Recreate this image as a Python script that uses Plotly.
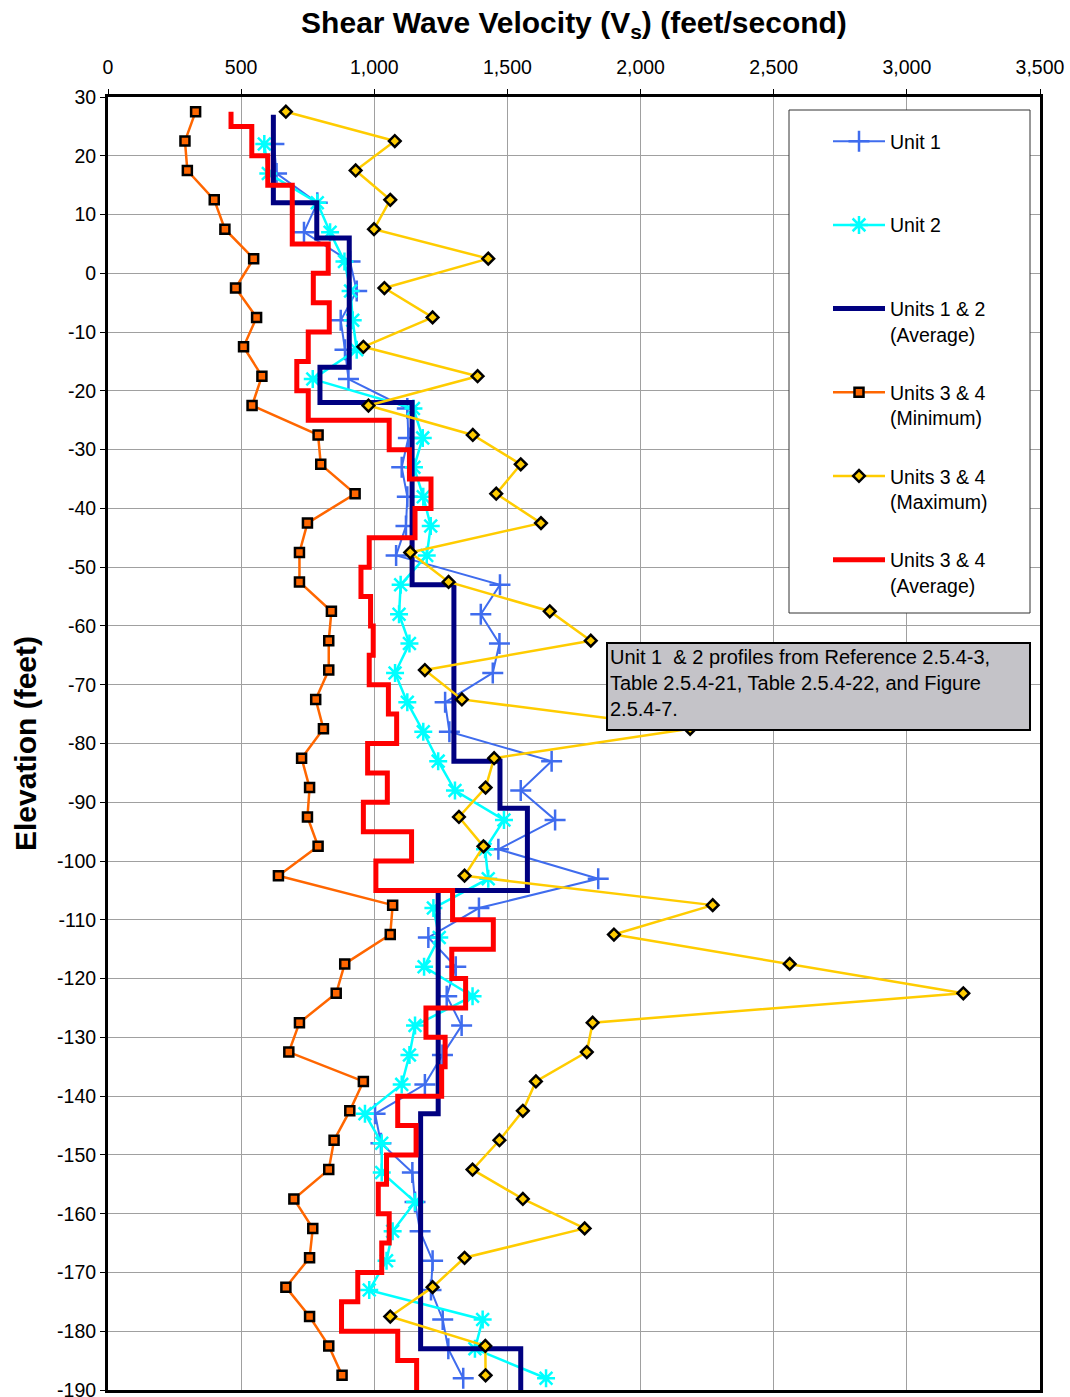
import plotly.graph_objects as go

# ---------------- data ----------------
# Units 1 & 2 measurement elevations (feet)
unit_elev = [22, 17, 12, 7, 2, -3, -8, -13, -18, -23,
             -28, -33, -38, -43, -48, -53, -58, -63, -68, -73,
             -78, -83, -88, -93, -98, -103, -108, -113, -118, -123, -128,
             -133, -138, -143, -148, -153, -158, -163, -168, -173, -178, -183, -188]
unit1_vs = [623, 633, 786, 736, 909, 934, 874, 890, 903, 1124,
            1128, 1103, 1124, 1119, 1082, 1472, 1400, 1470, 1445, 1266,
            1282, 1666, 1550, 1679, 1466, 1841, 1393, 1203, 1306, 1272, 1328,
            1256, 1190, 1003, 1025, 1143, 1153, 1172, 1219, 1213, 1257, 1278, 1334]
unit2_vs = [587, 602, 786, 834, 888, 911, 919, 934, 769, 1147,
            1182, 1149, 1184, 1212, 1197, 1099, 1093, 1132, 1078, 1124,
            1184, 1240, 1303, 1487, 1416, 1428, 1222, 1244, 1187, 1369, 1153,
            1132, 1103, 965, 1028, 1028, 1153, 1069, 1046, 981, 1407, 1378, 1645]

# Units 3 & 4 measurement elevations (feet)
u34_elev = [27.5, 22.5, 17.5, 12.5, 7.5, 2.5, -2.5, -7.5, -12.5, -17.5, -22.5,
            -27.5, -32.5, -37.5, -42.5, -47.5, -52.5, -57.5, -62.5, -67.5, -72.5, -77.5,
            -82.5, -87.5, -92.5, -97.5, -102.5, -107.5, -112.5, -117.5, -122.5, -127.5, -132.5,
            -137.5, -142.5, -147.5, -152.5, -157.5, -162.5, -167.5, -172.5, -177.5, -182.5, -187.5]
u34_min = [329, 289, 298, 399, 439, 547, 479, 558, 509, 578, 541,
           789, 799, 928, 749, 719, 719, 839, 829, 829, 780, 809,
           727, 757, 749, 789, 640, 1069, 1060, 889, 857, 719, 679,
           959, 908, 849, 829, 698, 769, 757, 668, 757, 829, 879]
u34_max = [668, 1077, 930, 1060, 999, 1428, 1038, 1219, 959, 1388, 978,
           1370, 1550, 1458, 1626, 1135, 1279, 1659, 1813, 1190, 1329, 2186,
           1450, 1418, 1318, 1410, 1339, 2271, 1900, 2560, 3212, 1820, 1798,
           1607, 1558, 1470, 1369, 1558, 1790, 1339, 1219, 1060, 1417, 1418]

# Units 1 & 2 average profile: layer boundaries (feet) and velocities
u12_avg_bounds = [27, 12, 6, -16, -22, -53, -83, -91, -105, -143, -183, -190]
u12_avg_vs = [621, 784, 906, 796, 1142, 1299, 1472, 1575, 1240, 1174, 1550]

# Units 3 & 4 average profile: layer boundaries (feet) and velocities
u34_avg_bounds = [27.5, 25, 20, 15, 5, 0, -5, -10, -15, -20, -25,
                  -30, -35, -40, -45, -50, -55, -60, -65, -70, -75, -80,
                  -85, -90, -95, -100, -105, -110, -115, -120, -125, -130, -135,
                  -140, -145, -150, -155, -160, -165, -170, -175, -180, -185, -190]
u34_avg_vs = [462, 540, 600, 692, 827, 771, 831, 752, 709, 752,
              1056, 1132, 1213, 1153, 981, 950, 986, 996, 981, 1053, 1084,
              975, 1049, 959, 1140, 1006, 1294, 1447, 1291, 1343, 1194, 1266,
              1253, 1088, 1157, 1046, 1015, 1056, 1028, 938, 877, 1088, 1159]

x_ticks = [0, 500, 1000, 1500, 2000, 2500, 3000, 3500]
x_ticktext = ["0", "500", "1,000", "1,500", "2,000", "2,500", "3,000", "3,500"]
y_ticks = [30, 20, 10, 0, -10, -20, -30, -40, -50, -60, -70, -80, -90, -100,
           -110, -120, -130, -140, -150, -160, -170, -180, -190]
y_ticktext = ["30", "20", "10", "0", "-10", "-20", "-30", "-40", "-50", "-60", "-70", "-80",
              "-90", "-100", "-110", "-120", "-130", "-140", "-150", "-160", "-170", "-180", "-190"]


def step_profile(bounds, values):
    xs, ys = [], []
    for i, v in enumerate(values):
        xs += [v, v]
        ys += [bounds[i], bounds[i + 1]]
    return xs, ys


FONT = "Arial, 'Liberation Sans', Helvetica, sans-serif"
SMALL = 19.5

fig = go.Figure()

fig.add_trace(go.Scatter(
    x=unit1_vs, y=unit_elev, mode="lines+markers", name="Unit 1<br>&nbsp;",
    legendgroup="g1",
    line=dict(color="#3F6CEE", width=2),
    marker=dict(symbol="cross-thin", size=15, line=dict(color="#3F6CEE", width=2.5)),
))
fig.add_trace(go.Scatter(
    x=unit2_vs, y=unit_elev, mode="lines+markers", name="Unit 2<br>&nbsp;",
    legendgroup="g2",
    line=dict(color="#00FFFF", width=2.5),
    marker=dict(symbol="asterisk", size=15, line=dict(color="#00FFFF", width=2.5)),
))
x12, y12 = step_profile(u12_avg_bounds, u12_avg_vs)
fig.add_trace(go.Scatter(
    x=x12, y=y12, mode="lines", name="Units 1 & 2<br>(Average)",
    legendgroup="g3",
    line=dict(color="#000080", width=5),
))
fig.add_trace(go.Scatter(
    x=u34_min, y=u34_elev, mode="lines+markers", name="Units 3 & 4<br>(Minimum)",
    legendgroup="g4",
    line=dict(color="#FF6600", width=2.5),
    marker=dict(symbol="square", size=9, color="#FF6600", line=dict(color="#000000", width=2.5)),
))
fig.add_trace(go.Scatter(
    x=u34_max, y=u34_elev, mode="lines+markers", name="Units 3 & 4<br>(Maximum)",
    legendgroup="g5",
    line=dict(color="#FFCC00", width=2.5),
    marker=dict(symbol="diamond", size=9, color="#FFCC00", line=dict(color="#000000", width=2.5)),
))
x34, y34 = step_profile(u34_avg_bounds, u34_avg_vs)
fig.add_trace(go.Scatter(
    x=x34, y=y34, mode="lines", name="Units 3 & 4<br>(Average)",
    legendgroup="g6",
    line=dict(color="#FF0000", width=5),
))

# plot area: left 108, right 1040, top 97, bottom 1390
L, R, T, B = 108, 1040, 97, 1390
W, H = 1070, 1397
pw, ph = R - L, B - T


def px(x):
    return (x - L) / pw


def py(y):
    return 1 - (y - T) / ph


fig.add_shape(type="rect", xref="paper", yref="paper",
              x0=px(789), x1=px(1030), y0=py(613), y1=py(110),
              line=dict(color="#333333", width=1), fillcolor="white", layer="above")

fig.add_annotation(
    xref="paper", yref="paper", x=px(606), y=py(642), xanchor="left", yanchor="top",
    text="Unit 1&nbsp; & 2 profiles from Reference 2.5.4-3,<br>Table 2.5.4-21, Table 2.5.4-22, and Figure<br>2.5.4-7.",
    showarrow=False, align="left", valign="top",
    font=dict(family=FONT, size=20, color="black"),
    bgcolor="#C4C3C8", bordercolor="black", borderwidth=2, borderpad=2,
    width=417, height=81,
)

fig.update_layout(
    width=W, height=H,
    margin=dict(l=L, r=W - R, t=T, b=H - B, autoexpand=False),
    paper_bgcolor="white", plot_bgcolor="white",
    font=dict(family=FONT, size=SMALL, color="black"),
    title=dict(text="<b>Shear Wave Velocity (V<sub>s</sub>) (feet/second)</b>",
               font=dict(family=FONT, size=30, color="black"),
               x=(L + R) / 2 / W, xref="container", xanchor="center",
               y=1 - 22 / H, yref="container", yanchor="middle"),
    showlegend=True,
    legend=dict(x=px(828), y=py(122), xanchor="left", yanchor="top",
                bgcolor="rgba(0,0,0,0)", borderwidth=0,
                font=dict(family=FONT, size=SMALL, color="black"),
                itemwidth=52, valign="top", tracegroupgap=30,
                traceorder="grouped"),
    xaxis=dict(side="top", range=[0, 3500], tickvals=x_ticks, ticktext=x_ticktext,
               showgrid=True, gridcolor="#A0A0A0", gridwidth=1,
               showline=True, linecolor="black", linewidth=3, mirror=True,
               ticks="outside", ticklen=5, tickcolor="black", ticklabelstandoff=7,
               ticklabeloverflow="allow",
               tickfont=dict(family=FONT, size=SMALL, color="black"), zeroline=False),
    yaxis=dict(range=[-190, 30], tickvals=y_ticks, ticktext=y_ticktext,
               showgrid=True, gridcolor="#A0A0A0", gridwidth=1,
               showline=True, linecolor="black", linewidth=3, mirror=True,
               ticks="outside", ticklen=5, tickcolor="black",
               ticklabeloverflow="allow",
               tickfont=dict(family=FONT, size=SMALL, color="black"), zeroline=False,
               title=dict(text="<b>Elevation (feet)</b>", standoff=12,
                          font=dict(family=FONT, size=30, color="black"))),
)

fig.write_html("out.html", config={"displayModeBar": False},
               post_script="document.body.style.margin='0px';")
